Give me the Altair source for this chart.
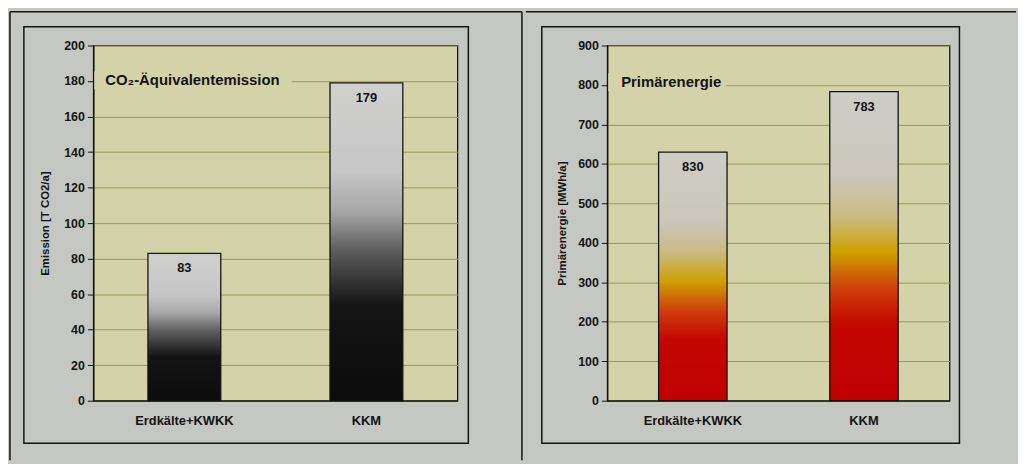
import altair as alt
import pandas as pd

# ---- data ----
categories = ["Erdkälte+KWKK", "KKM"]
emission = [83, 179]
emission_labels = ["83", "179"]
energy = [630, 783]
energy_labels = ["830", "783"]
emission_ticks = [0, 20, 40, 60, 80, 100, 120, 140, 160, 180, 200]
energy_ticks = [0, 100, 200, 300, 400, 500, 600, 700, 800, 900]

FONT = "Liberation Sans"
INK = "#141414"
PLOT_BG = "#d4d2a8"
PAGE_BG = "#c5c7c2"
H = 358

gray_grad = alt.Gradient(
    gradient="linear", x1=0, x2=0, y1=1, y2=0,
    stops=[
        alt.GradientStop(color="#0c0c0c", offset=0),
        alt.GradientStop(color="#141414", offset=0.3),
        alt.GradientStop(color="#5c5c5c", offset=0.47),
        alt.GradientStop(color="#a9a9a9", offset=0.6),
        alt.GradientStop(color="#c6c6c6", offset=0.72),
        alt.GradientStop(color="#d0d0cf", offset=1),
    ],
)
red_grad = alt.Gradient(
    gradient="linear", x1=0, x2=0, y1=1, y2=0,
    stops=[
        alt.GradientStop(color="#c00000", offset=0),
        alt.GradientStop(color="#c40800", offset=0.25),
        alt.GradientStop(color="#d03c0c", offset=0.36),
        alt.GradientStop(color="#cfa000", offset=0.48),
        alt.GradientStop(color="#c9bc84", offset=0.6),
        alt.GradientStop(color="#cac6b8", offset=0.72),
        alt.GradientStop(color="#cdccc6", offset=1),
    ],
)

one = pd.DataFrame({"k": [0]})


def rule(x, x2, y, y2, w=1.5):
    return alt.Chart(one).mark_rule(color=INK, strokeWidth=w).encode(
        x=alt.value(x), x2=alt.value(x2), y=alt.value(y), y2=alt.value(y2)
    )


def box(x, x2, y, y2):
    return alt.Chart(one).mark_rect(fillOpacity=0, stroke=INK, strokeWidth=1.5).encode(
        x=alt.value(x), x2=alt.value(x2), y=alt.value(y), y2=alt.value(y2)
    )


def panel(vals, labels, ticks, ymax, ytitle, title, grad, width, title_box_w, title_pos, frames, title_pad):
    df = pd.DataFrame({"cat": categories, "val": vals, "lab": labels})
    base = alt.Chart(df)
    x = alt.X(
        "cat:N", sort=categories, title=None,
        scale=alt.Scale(paddingInner=0.6, paddingOuter=0.3),
        axis=alt.Axis(labelAngle=0, ticks=False, labelPadding=14, labelFontSize=13,
                      labelFontWeight="bold", grid=False),
    )
    y = alt.Y(
        "val:Q", title=ytitle,
        scale=alt.Scale(domain=[0, ymax], nice=False, zero=True),
        axis=alt.Axis(values=ticks, tickSize=6, labelPadding=3, labelFontSize=12.5,
                      labelFontWeight="bold", titleFontSize=11.5, titleFontWeight="bold",
                      titlePadding=title_pad, grid=True, labelOverlap=False),
    )
    bars = base.mark_bar(fill=grad, stroke=INK, strokeWidth=1.3).encode(x=x, y=y)
    text = base.mark_text(dy=15, baseline="middle", fontSize=13, fontWeight="bold",
                          font=FONT, color=INK).encode(x=x, y=y, text="lab:N")
    tbg = alt.Chart(one).mark_rect(fill=PLOT_BG).encode(
        x=alt.value(1), x2=alt.value(title_box_w), y=alt.value(title_pos[1] - 9), y2=alt.value(title_pos[1] + 9)
    )
    ttl = alt.Chart(one).mark_text(align="left", baseline="middle", fontSize=15,
                                   fontWeight="bold", font=FONT, color=INK).encode(
        x=alt.value(title_pos[0]), y=alt.value(title_pos[1]), text=alt.value(title)
    )
    return alt.layer(*frames, tbg, bars, text, ttl).properties(width=width, height=H)


left = panel(
    emission, emission_labels, emission_ticks, 200, "Emission [T CO2/a]",
    "CO₂-Äquivalentemission", gray_grad, 367, 200, (12, 35),
    [
        rule(-84, -84, -34, 418),      # outer left line
        rule(-84, 432, -34, -34),      # outer top line
        rule(432, 432, -34, 418),      # divider
        box(-70, 378, -19, 401),       # inner chart box
    ],
    13,
)
right = panel(
    energy, energy_labels, energy_ticks, 900, "Primärenergie [MWh/a]",
    "Primärenergie", red_grad, 345, 120, (14, 37),
    [
        rule(-82, 412, -34, -34),      # outer top line continued
        box(-66, 355, -19, 401),       # inner chart box
    ],
    10,
)

chart = (
    alt.hconcat(left, right, spacing=0)
    .properties(padding=0, background=PAGE_BG)
    .configure_view(fill=PLOT_BG, stroke=INK, strokeWidth=1.3)
    .configure_axis(
        labelFont=FONT, titleFont=FONT, labelColor=INK, titleColor=INK,
        domainColor=INK, domainWidth=1.3, tickColor=INK, gridColor="#97985a", gridWidth=1,
    )
)

chart.save("out.html", embed_options={"renderer": "svg", "actions": False})
